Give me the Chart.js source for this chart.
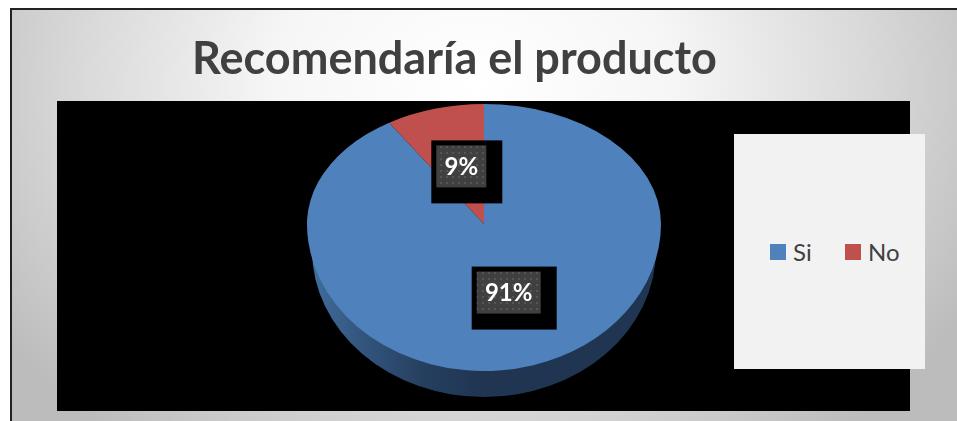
<!DOCTYPE html>
<html lang="es">
<head>
<meta charset="utf-8">
<title>Recomendaría el producto</title>
<script src="https://cdn.jsdelivr.net/npm/chart.js@4"></script>
<style>
  html, body { margin: 0; padding: 0; background: #fff; overflow: hidden; }
  #frame {
    position: absolute; left: 10px; top: 8px; width: 947px; height: 413px;
    box-sizing: border-box; border-left: 2px solid #222; border-top: 2px solid #222;
    background: radial-gradient(ellipse 570px 450px at 462px 75px, #fff 0, #f6f6f6 35%, #dadada 68%, #bcbcbc 100%) no-repeat;
  }
  #plot { position: absolute; left: 57px; top: 101px; width: 853px; height: 310px; background: #000; }
  #chartWrap { position: absolute; left: 0; top: 0; width: 909px; height: 421px; }
  #legend {
    position: absolute; left: 734px; top: 134px; width: 191px; height: 235px; background: #f2f2f2;
    font: 24px Lato, sans-serif; color: #404040;
  }
  .legend-item { position: absolute; top: 100px; height: 32px; line-height: 36px; white-space: nowrap; }
  .legend-item i { position: absolute; left: 0; top: 10px; width: 16px; height: 16px; }
  .legend-item span { position: absolute; left: 23px; top: 0; }
</style>
</head>
<body>
<div id="frame"></div>
<div id="plot"></div>
<div id="chartWrap"><canvas id="pieChart" width="909" height="421"></canvas></div>
<div id="legend"></div>
<script>
const categories = ["Si", "No"];
const shares = [91, 9];
const sliceColors = ["#4f81bd", "#c0504d"];
const legendLefts = [36, 111];

// how the flat pie gets squashed to look tilted
const tilt = { cx: 484, apexY: 224, rx: 177, ryTop: 120, ryBottom: 147, depth: 26, sideInset: 5 };

const dotPattern = (ctx) => {
  const tile = document.createElement("canvas");
  tile.width = 6;
  tile.height = 6;
  const t = tile.getContext("2d");
  t.fillStyle = "#404040";
  t.fillRect(0, 0, 6, 6);
  t.fillStyle = "#555555";
  t.fillRect(2, 2, 2, 2);
  return ctx.createPattern(tile, "repeat");
};

const drawSide = (ctx) => {
  const grad = ctx.createLinearGradient(tilt.cx - tilt.rx, 0, tilt.cx + tilt.rx, 0);
  grad.addColorStop(0, "#41709f");
  grad.addColorStop(0.15, "#33567f");
  grad.addColorStop(0.33, "#263f5f");
  grad.addColorStop(0.5, "#1f3552");
  grad.addColorStop(1, "#1f3552");
  ctx.fillStyle = grad;
  ctx.beginPath();
  ctx.ellipse(tilt.cx, tilt.apexY + tilt.depth, tilt.rx - tilt.sideInset, tilt.ryBottom, 0, Math.PI, 0, true);
  ctx.closePath();
  ctx.fill();
};

const drawLabel = (ctx, text, x, y, width) => {
  const left = x - width / 2;
  const top = y - 21;
  ctx.fillStyle = "#000";
  ctx.fillRect(left - 5, top - 5, width + 21, 63);
  ctx.fillStyle = dotPattern(ctx);
  ctx.fillRect(left, top, width, 42);
  ctx.fillStyle = "#fff";
  ctx.font = "bold 24px Lato, sans-serif";
  ctx.textAlign = "center";
  ctx.textBaseline = "middle";
  ctx.fillText(text, x, y + 1);
};

const tiltedPie = {
  id: "tiltedPie",
  beforeDatasetsDraw(chart) {
    const ctx = chart.ctx;
    const meta = chart.getDatasetMeta(0);
    const arc = meta.data[0];
    const scaleX = tilt.rx / arc.outerRadius;

    drawSide(ctx);

    // top half and bottom half of the disc use different squash, apex sits above the middle
    [[tilt.ryTop, 0, tilt.apexY], [tilt.ryBottom, tilt.apexY, chart.height]].forEach(([ry, from, to]) => {
      ctx.save();
      ctx.beginPath();
      ctx.rect(0, from, chart.width, to - from);
      ctx.clip();
      ctx.translate(tilt.cx, tilt.apexY);
      ctx.scale(scaleX, ry / arc.outerRadius);
      ctx.translate(-arc.x, -arc.y);
      meta.controller.draw();
      ctx.restore();
    });

    meta.data.forEach((el, i) => {
      const c = el.getCenterPoint();
      const dy = c.y - arc.y;
      const ry = dy < 0 ? tilt.ryTop : tilt.ryBottom;
      const text = shares[i] + "%";
      const width = text.length > 2 ? 64 : 50;
      // labels sit a little off the slice centre in the original
      const nudge = text.length > 2 ? [0, -2] : [2, 0];
      drawLabel(
        ctx,
        text,
        tilt.cx + (c.x - arc.x) * scaleX + nudge[0],
        tilt.apexY + dy * ry / arc.outerRadius + nudge[1],
        width
      );
    });
    return false;
  },
};

const buildLegend = () => {
  const box = document.getElementById("legend");
  categories.forEach((name, i) => {
    const item = document.createElement("div");
    item.className = "legend-item";
    item.style.left = legendLefts[i] + "px";
    item.innerHTML = `<i style="background:${sliceColors[i]}"></i><span>${name}</span>`;
    box.appendChild(item);
  });
};

document.fonts.load("bold 45px Lato").finally(() => {
  buildLegend();
  new Chart(document.getElementById("pieChart"), {
    type: "pie",
    data: {
      labels: categories,
      datasets: [{ data: shares, backgroundColor: sliceColors, borderWidth: 0 }],
    },
    options: {
      responsive: false,
      animation: false,
      layout: { padding: { bottom: 20 } },
      plugins: {
        legend: { display: false },
        tooltip: { enabled: false },
        title: {
          display: true,
          text: "Recomendaría el producto",
          color: "#404040",
          font: { family: "Lato, sans-serif", size: 45, weight: "bold", lineHeight: 1.2 },
          padding: { top: 32, bottom: 10 },
        },
      },
    },
    plugins: [tiltedPie],
  });
});
</script>
</body>
</html>
